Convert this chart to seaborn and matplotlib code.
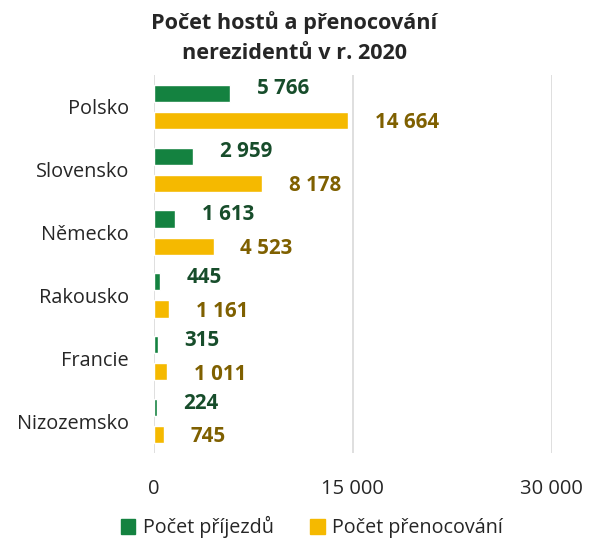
import numpy as np
import pandas as pd
import seaborn as sns
import matplotlib.pyplot as plt
from matplotlib.patches import Patch

# data
countries = ["Polsko", "Slovensko", "Německo", "Rakousko", "Francie", "Nizozemsko"]
arrivals = [5766, 2959, 1613, 445, 315, 224]
nights = [14664, 8178, 4523, 1161, 1011, 745]
series_names = ["Počet příjezdů", "Počet přenocování"]
x_ticks = [0, 15000, 30000]
x_tick_labels = ["0", "15 000", "30 000"]

green = "#148240"
yellow = "#F5B900"
green_txt = "#174D2B"
yellow_txt = "#7F6000"

sns.set_theme(style="white")
plt.rcParams["font.family"] = ["Open Sans", "DejaVu Sans"]

df = pd.DataFrame({
    "country": countries * 2,
    "value": arrivals + nights,
    "series": [series_names[0]] * len(countries) + [series_names[1]] * len(countries),
})

fig = plt.figure(figsize=(5.92, 5.41), dpi=100)
ax = fig.add_axes([0.260, 0.163, 0.672, 0.698])

sns.barplot(data=df, y="country", x="value", hue="series", orient="h",
            palette=[green, yellow], width=0.86, gap=0.37, saturation=1,
            legend=False, ax=ax)

ax.set_xlim(0, 30000)
ax.set_ylim(len(countries) - 0.5, -0.5)
ax.set_xticks(x_ticks)
ax.set_xticklabels(x_tick_labels, fontsize=14.5)
ax.tick_params(axis="x", length=0, pad=19)
ax.tick_params(axis="y", length=0, pad=18, labelsize=14.3)
ax.set_xlabel("")
ax.set_ylabel("")
for s in ax.spines.values():
    s.set_visible(False)
for t in x_ticks:
    ax.axvline(t, color="#D9D9D9", lw=1.2, zorder=0)

# value labels
for cont, vals, col, dy in zip(ax.containers, [arrivals, nights], [green_txt, yellow_txt], [3, -1.5]):
    for bar, v in zip(cont, vals):
        y = bar.get_y() + bar.get_height() / 2
        ax.annotate(f"{v:,}".replace(",", " "), xy=(bar.get_width(), y),
                    xytext=(19, dy), textcoords="offset points",
                    ha="left", va="center", fontsize=14.8, fontweight="bold", color=col)

fig.suptitle("Počet hostů a přenocování\nnerezidentů v r. 2020", x=0.497, y=0.98,
             fontsize=15.6, fontweight="bold", linespacing=1.55)

handles = [Patch(color=green, label=series_names[0]), Patch(color=yellow, label=series_names[1])]
fig.legend(handles=handles, loc="lower center", bbox_to_anchor=(0.527, -0.028), ncol=2,
           frameon=False, fontsize=14.2, handlelength=0.75, handleheight=0.75,
           handletextpad=0.4, columnspacing=1.8)

fig.savefig("out.png", dpi=100)
